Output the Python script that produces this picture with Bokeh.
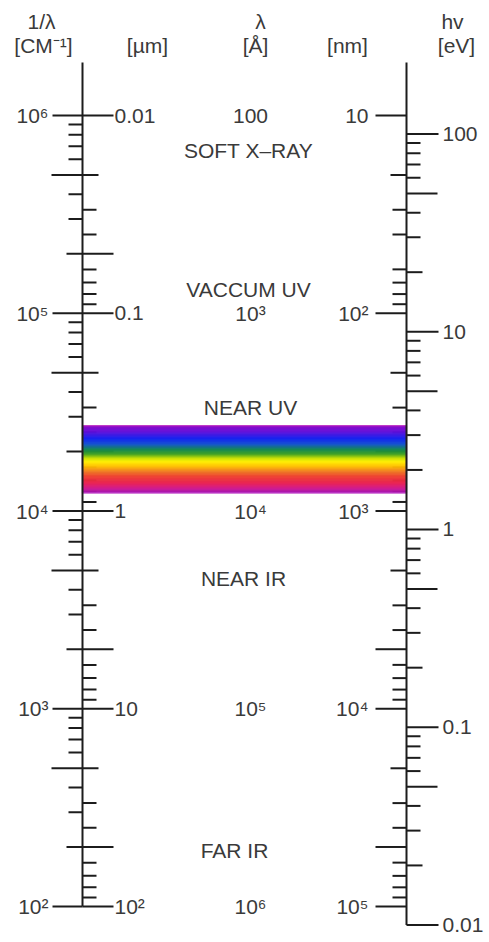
import numpy as np
from bokeh.plotting import figure
from bokeh.models import Range1d, LogScale
from bokeh.core.properties import value
from bokeh.embed import file_html
from bokeh.resources import INLINE

# ---------------- data ----------------
WN_DECADES = [1e6, 1e5, 1e4, 1e3, 1e2]            # 1/λ [cm^-1]
WN_LABELS = ["10⁶", "10⁵", "10⁴", "10³", "10²"]
UM_DECADES = [0.01, 0.1, 1, 10, 100]              # λ [µm]
UM_LABELS = ["0.01", "0.1", "1", "10", "10²"]
A_DECADES = [100, 1e3, 1e4, 1e5, 1e6]             # λ [Å]
A_LABELS = ["100", "10³", "10⁴", "10⁵", "10⁶"]
NM_DECADES = [10, 100, 1e3, 1e4, 1e5]             # λ [nm]
NM_LABELS = ["10", "10²", "10³", "10⁴", "10⁵"]
EV_DECADES = [100, 10, 1, 0.1, 0.01]              # hν [eV]
EV_LABELS = ["100", "10", "1", "0.1", "0.01"]
MANTISSAS = [2, 3, 4, 5, 6, 7, 8, 9]
NM_OMITTED = [50]                                 # tick not drawn in the original
REGIONS = ["SOFT X–RAY", "VACCUM UV", "NEAR UV", "NEAR IR", "FAR IR"]
REGION_NM = [15, 76, 300, 2200, 52000]
VISIBLE_NM = [370, 810]
HEADERS_TOP = ["1/λ", "λ", "hv"]
HEADERS_UNIT = ["[CM⁻¹]", "[µm]", "[Å]", "[nm]", "[eV]"]
EV_TO_WN = 8065.54

# ---------------- conversions ----------------
def wn_um(v): return 1e4 / v
def wn_A(v): return 1e8 / v
def wn_nm(v): return 1e7 / v
def wn_eV(v): return v * EV_TO_WN

# ---------------- layout ----------------
W, H = 489, 942
Y_REF_PX, PX_DEC = 115.0, 197.75      # pixel row of 10^6 cm^-1, pixels per decade
def px_to_wn(ypx):
    return 10 ** (6 - (ypx - Y_REF_PX) / PX_DEC)

XL, XR = 82, 406
FONT = value("Liberation Sans")
INK = "#1c1c1c"
TXT = "#3a3a3a"

def tick_len(m):
    return 31 if m == 5 else (16 if m == 2 else 14)

p = figure(width=W, height=H, x_range=Range1d(0, W),
           y_range=Range1d(px_to_wn(H), px_to_wn(0)),
           y_axis_type="log", x_axis_location=None, y_axis_location=None,
           toolbar_location=None, output_backend="svg", min_border=0,
           outline_line_color=None, background_fill_color="white",
           border_fill_color="white")
p.y_scale = LogScale()
p.grid.visible = False

x0s, x1s, ys = [], [], []
def add(xa, xb, y):
    x0s.append(xa); x1s.append(xb); ys.append(y)

# left axis, left side: 1/λ
for d in WN_DECADES:
    add(XL - 30, XL, d)
for k in range(2, 6):
    for m in MANTISSAS:
        add(XL - tick_len(m), XL, m * 10 ** k)
# left axis, right side: µm
for d in UM_DECADES:
    add(XL, XL + 31, wn_um(d))
for k in range(-2, 2):
    for m in MANTISSAS:
        add(XL, XL + tick_len(m), wn_um(m * 10.0 ** k))
# right axis, left side: nm
for d in NM_DECADES:
    add(XR - 31, XR, wn_nm(d))
for k in range(1, 5):
    for m in MANTISSAS:
        v = m * 10 ** k
        if v in NM_OMITTED:
            continue
        add(XR - tick_len(m), XR, wn_nm(v))
# right axis, right side: eV
for d in EV_DECADES:
    add(XR, XR + 32, wn_eV(d))
for k in range(-2, 2):
    for m in MANTISSAS:
        add(XR, XR + tick_len(m), wn_eV(m * 10.0 ** k))

p.segment(x0=x0s, y0=ys, x1=x1s, y1=ys, line_color=INK, line_width=2)

# visible band (gradient)
STOPS = [(0.00, "#9000c0"), (0.10, "#6010dc"), (0.20, "#1020f0"),
         (0.28, "#1050d0"), (0.36, "#108850"), (0.43, "#40a020"),
         (0.49, "#c8e000"), (0.54, "#fff000"), (0.61, "#ffc000"),
         (0.68, "#f08020"), (0.76, "#f04030"), (0.86, "#e82050"),
         (0.94, "#d01890"), (1.00, "#a010b0")]
def hex2rgb(h): return np.array([int(h[i:i + 2], 16) for i in (1, 3, 5)], float)
fr = np.array([s[0] for s in STOPS]); cols = np.array([hex2rgb(s[1]) for s in STOPS])
def col_at(f):
    r, g, b = (np.interp(f, fr, cols[:, i]) for i in range(3))
    return "#%02x%02x%02x" % (int(round(r)), int(round(g)), int(round(b)))

lt, lb = np.log10(wn_nm(VISIBLE_NM[0])), np.log10(wn_nm(VISIBLE_NM[1]))
N = 90
edges = np.linspace(lt, lb, N + 1)
tops = 10 ** edges[:-1]; bots = 10 ** edges[1:]
colors = [col_at((i + 0.5) / N) for i in range(N)]
p.quad(left=XL, right=XR, top=tops, bottom=bots, fill_color=colors,
       line_color=colors, line_width=0.6)
p.quad(left=XL, right=XR, top=[10 ** lt], bottom=[10 ** lb], fill_color=None,
       line_color="#c03cc8", line_width=1.2)

# axis lines
y_top = px_to_wn(62)
p.segment(x0=[XL, XR], y0=[y_top, y_top], x1=[XL, XR],
          y1=[WN_DECADES[-1], wn_eV(EV_DECADES[-1])], line_color=INK, line_width=2)

def txt(xs, ys_, texts, align):
    p.text(x=xs, y=ys_, text=texts, text_font=FONT, text_font_size="21px",
           text_align=align, text_baseline="middle", text_color=TXT)

txt([XL - 34] * 5, WN_DECADES, WN_LABELS, "right")
txt([XL + 32] * 5, [wn_um(v) for v in UM_DECADES], UM_LABELS, "left")
txt([250] * 5, [wn_A(v) for v in A_DECADES], A_LABELS, "center")
txt([XR - 38] * 5, [wn_nm(v) for v in NM_DECADES], NM_LABELS, "right")
txt([XR + 36] * 5, [wn_eV(v) for v in EV_DECADES], EV_LABELS, "left")

txt([248, 248, 250, 243, 234], [wn_nm(v) for v in REGION_NM], REGIONS, "center")

txt([41, 260, 452], [px_to_wn(21)] * 3, HEADERS_TOP, "center")
txt([43, 147, 255, 347, 456], [px_to_wn(45)] * 5, HEADERS_UNIT, "center")

open("out.html", "w").write(file_html(p, INLINE))
